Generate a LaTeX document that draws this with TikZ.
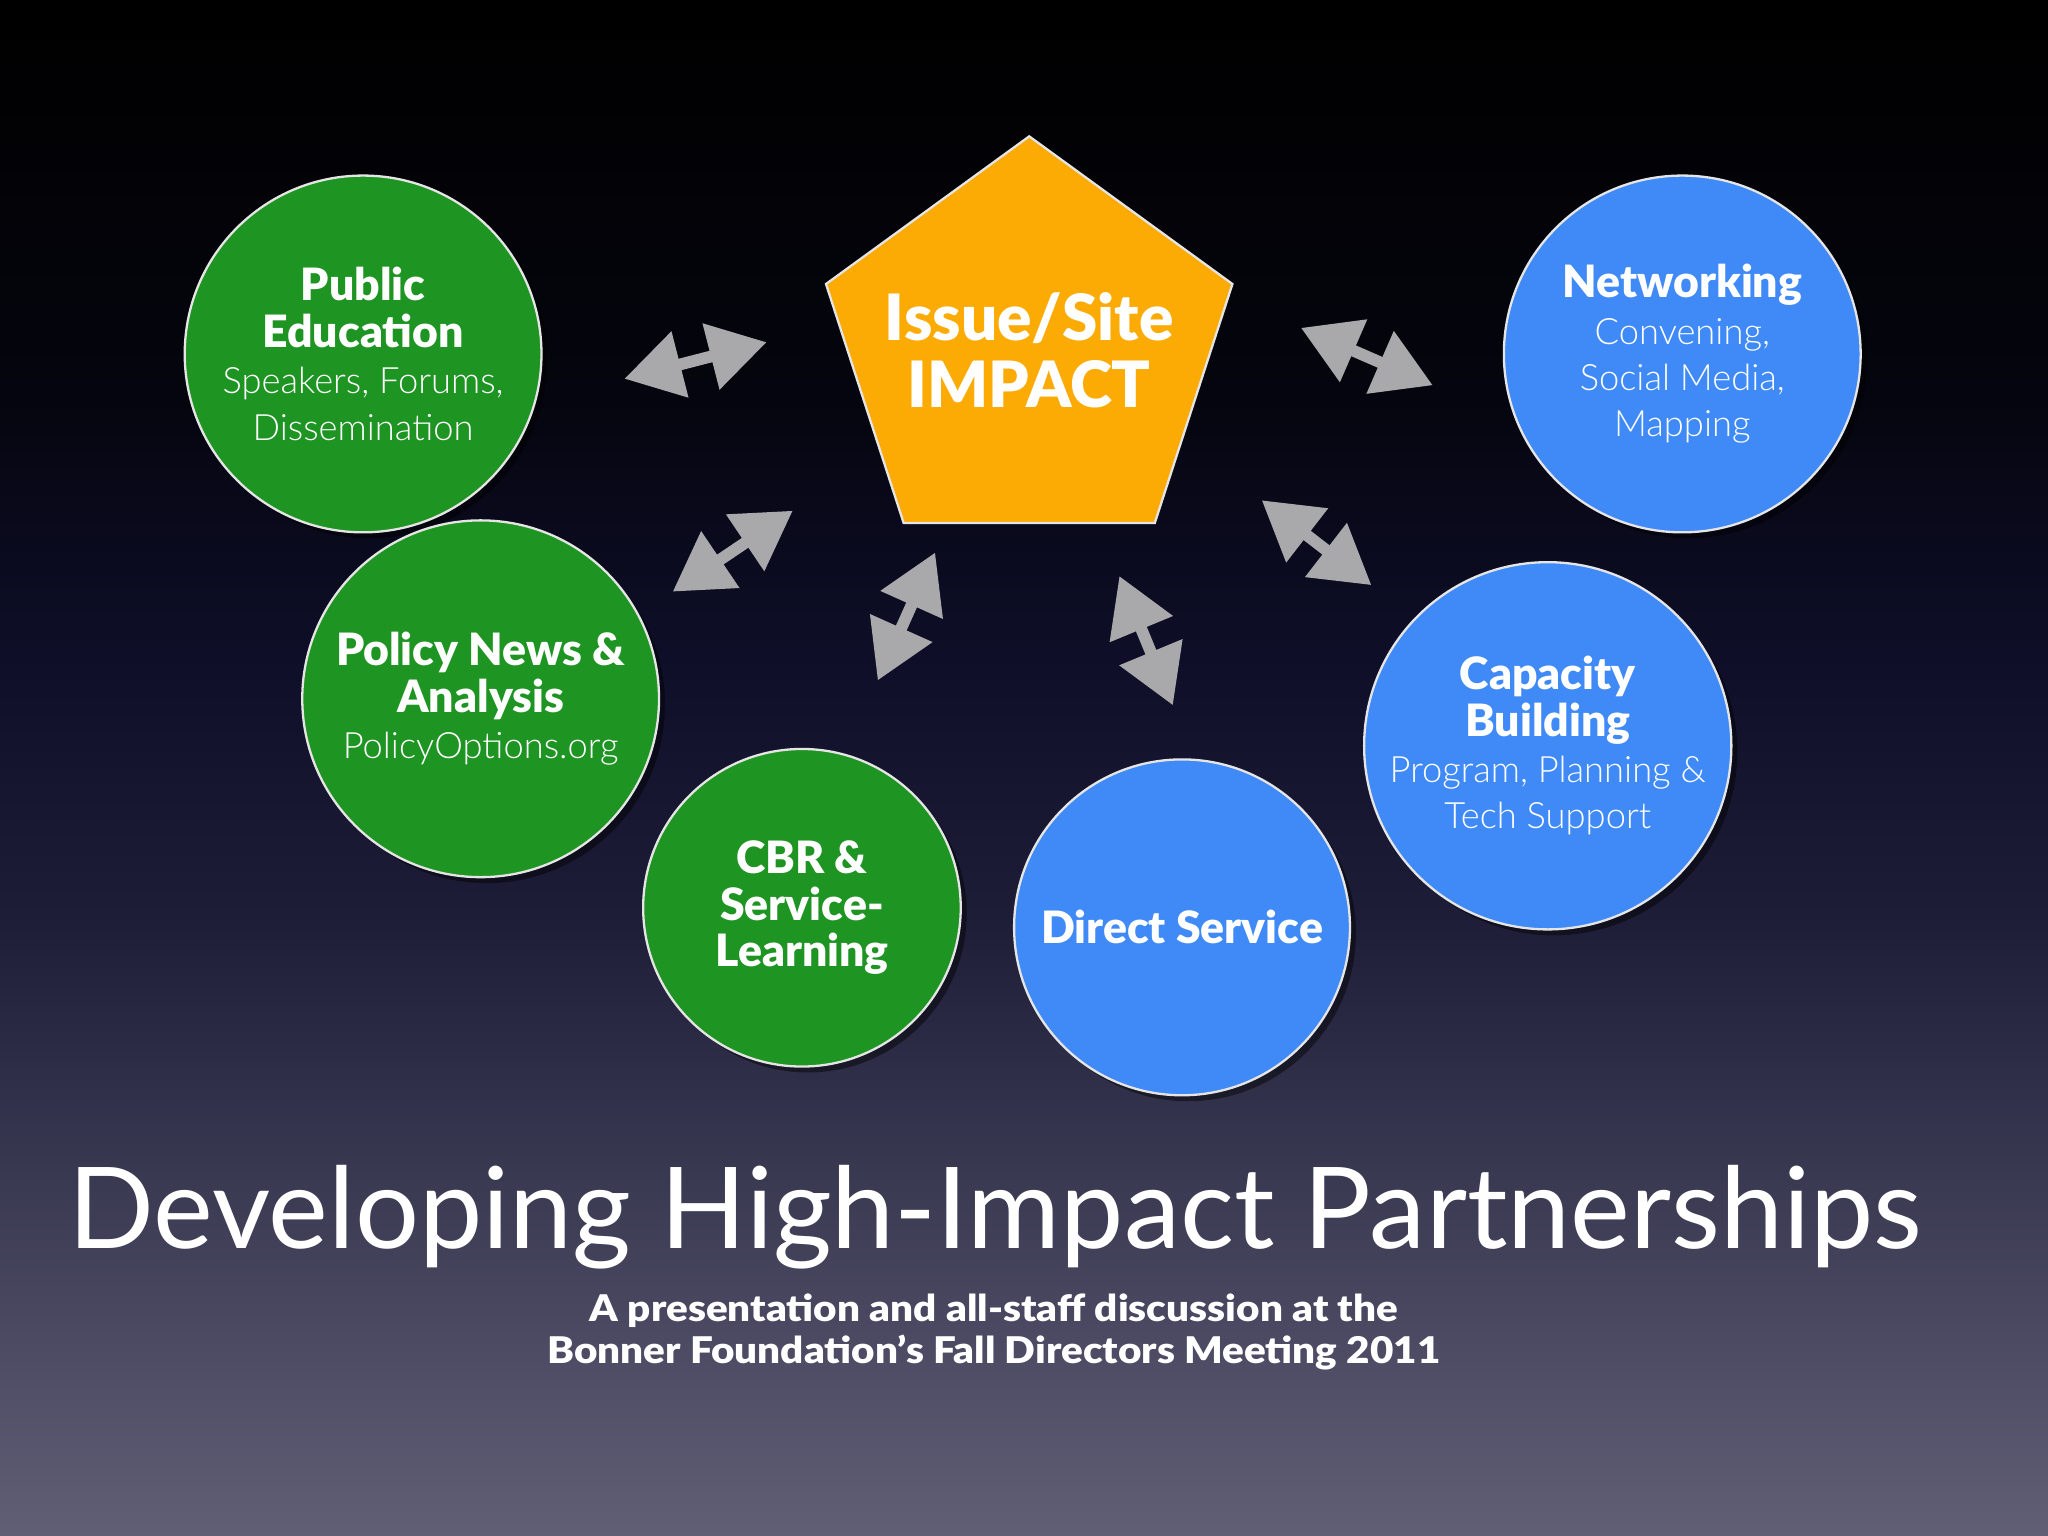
\documentclass[tikz,border=0pt]{standalone}
\usepackage{fontspec}
\setmainfont{Lato}
\newfontfamily\lightfont{Lato Light}
\newfontfamily\heavyfont{Lato Black}
\newfontfamily\widefont{Lato Black}[FakeStretch=1.1]
\usepackage{xcolor}
\usetikzlibrary{arrows.meta,shapes.geometric,shadows}
\definecolor{bgbottom}{RGB}{96,95,118}
\definecolor{bglow}{RGB}{58,57,82}
\definecolor{bgmid}{RGB}{30,29,56}
\definecolor{bghigh}{RGB}{14,14,40}
\definecolor{bgtop}{RGB}{5,5,15}
\definecolor{partgreen}{RGB}{30,148,35}
\definecolor{partblue}{RGB}{64,138,247}
\definecolor{impactorange}{RGB}{252,170,4}
\definecolor{linkgrey}{RGB}{169,169,172}
\pgfdeclareverticalshading{slidebg}{100bp}{color(0bp)=(bgbottom); color(25bp)=(bgbottom);
  color(36.7bp)=(bglow); color(45.2bp)=(bgmid); color(53.7bp)=(bghigh); color(62.2bp)=(bgtop);
  color(75bp)=(black); color(100bp)=(black)}
\newcommand\hd[1]{{\heavyfont #1}}
\newcommand\lt[1]{{\lightfont\fontsize{7.9}{10.1}\selectfont #1}}

\begin{document}
\begin{tikzpicture}[x=0.01cm,y=-0.01cm,
  partner/.style={circle,draw=white!80!gray,line width=0.5pt,text=white,align=center,
    inner sep=0pt,font=\fontsize{9.7}{10.1}\selectfont,
    drop shadow={shadow xshift=1.3pt,shadow yshift=-1.3pt,opacity=0.45,fill=black}},
  green/.style={partner,fill=partgreen},
  blue/.style={partner,fill=partblue},
  link/.style={draw=linkgrey,line width=0.09cm,
    {Triangle[length=0.44cm,width=0.5cm]}-{Triangle[length=0.44cm,width=0.5cm]}}]
\shade[shading=slidebg] (0,0) rectangle (1568,1176);
\node[regular polygon,regular polygon sides=5,minimum size=3.27cm,inner sep=0pt,
  fill=impactorange,draw=white!80!gray,line width=0.5pt] (impact) at (788,268) {};
\node[text=white,align=center,font=\heavyfont\fontsize{13.9}{14.5}\selectfont]
  (impactlabel) at (impact.center) {Issue/Site\\IMPACT};
\node[green,minimum size=2.73cm] (pubedu) at (278,271)
  {\hd{Public}\\\hd{Education}\\\lt{Speakers, Forums,}\\\lt{Dissemination}};
\node[green,minimum size=2.73cm] (policy) at (368,535)
  {\hd{Policy News \&}\\\hd{Analysis}\\\lt{PolicyOptions.org}};
\node[green,minimum size=2.43cm] (cbr) at (614,695)
  {\hd{CBR \&}\\\hd{Service-}\\\hd{Learning}};
\node[blue,minimum size=2.57cm] (direct) at (905,710) {\hd{Direct Service}};
\node[blue,minimum size=2.81cm] (capacity) at (1185,571)
  {\hd{Capacity}\\\hd{Building}\\\lt{Program, Planning \&}\\\lt{Tech Support}};
\node[blue,minimum size=2.73cm] (network) at (1288,271)
  {\hd{Networking}\\\lt{Convening,}\\\lt{Social Media,}\\\lt{Mapping}};
\coordinate (pubedu-l) at (478,290);
\coordinate (pubedu-r) at (587,262);
\coordinate (policy-l) at (515,453);
\coordinate (policy-r) at (607,391);
\coordinate (cbr-l) at (672,521);
\coordinate (cbr-r) at (716,423);
\coordinate (direct-l) at (898,540);
\coordinate (direct-r) at (857,441);
\coordinate (capacity-l) at (1050,448);
\coordinate (capacity-r) at (966,383);
\coordinate (network-l) at (1097,295);
\coordinate (network-r) at (996,251);
\foreach\p in {pubedu,policy,cbr,direct,capacity,network}{
  \draw[link] (\p-l)--(\p-r);
}
\node[text=white,font=\fontsize{24.6}{28}\selectfont] (title) at (762,932)
  {Developing High-Impact Partnerships};
\node[text=white,align=center,font=\widefont\fontsize{8}{9.1}\selectfont] (subtitle) at (761,1020)
  {A presentation and all-staff discussion at the\\Bonner Foundation’s Fall Directors Meeting 2011};
\end{tikzpicture}
\end{document}
